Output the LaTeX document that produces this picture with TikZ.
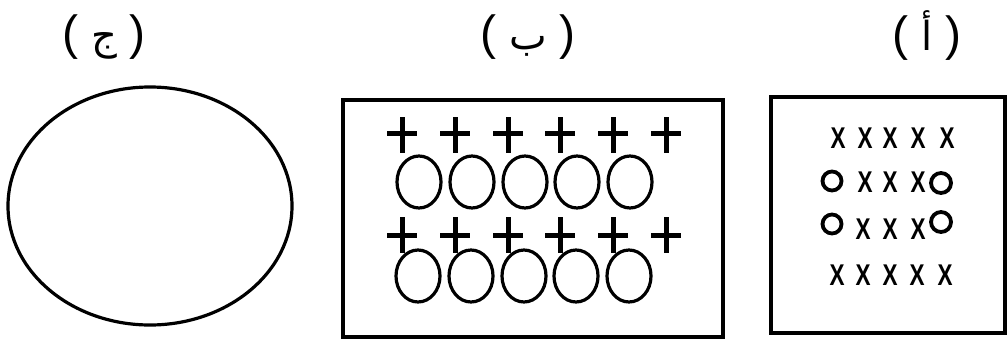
\documentclass[tikz,border=0pt]{standalone}
\usepackage{fontspec}
\newfontfamily\arabicfont[Script=Arabic]{DejaVu Sans}
\newfontfamily\labelfont{Liberation Sans}
\TeXXeTstate=1
\newcommand{\partlabel}[1]{{\labelfont\fontsize{48}{48}\selectfont(}\hspace{13pt}{\arabicfont\fontsize{40}{40}\selectfont\beginR #1\endR}\hspace{13pt}{\labelfont\fontsize{48}{48}\selectfont)}}
\tikzset{
  frame/.style={line width=3.5pt},
  plusline/.style={line width=5pt},
  ionline/.style={line width=3.2pt},
  xsign/.style={inner sep=0pt,xscale=0.75,font=\labelfont\bfseries\fontsize{30}{30}\selectfont},
  ring/.style={circle,draw,line width=3.8pt,minimum size=19pt,inner sep=0pt}
}
\begin{document}
\begin{tikzpicture}[x=1pt,y=-1pt]
    \useasboundingbox (0,0) rectangle (1008,340);

    % Define the rows of the middle box
    \def\plusone{133}   % first row of plus signs
    \def\ionone{182}    % first row of circles
    \def\plustwo{235}   % second row of plus signs
    \def\iontwo{276}    % second row of circles

    % -- Part labels above each drawing --
    \node (labelc) at (104,37) {\partlabel{ج}};
    \node (labelb) at (528,37) {\partlabel{ب}};
    \node (labela) at (927,35) {\partlabel{أ}};

    % -- Left drawing: an empty ellipse --
    \draw[ionline] (150,206) ellipse [x radius=142, y radius=119];

    % -- Middle drawing: box with plus signs and circles --
    \draw[frame] (343,100) rectangle (723,337);
    \foreach \x in {402,455,508,560,613,666}{
      \draw[plusline] (\x-15,\plusone) -- (\x+15,\plusone) (\x,\plusone-16) -- (\x,\plusone+20);
      \draw[plusline] (\x-15,\plustwo) -- (\x+15,\plustwo) (\x,\plustwo-18) -- (\x,\plustwo+18);
    }
    \foreach \x in {419,472,525,577,630}{
      \draw[ionline] (\x,\ionone) ellipse [x radius=22, y radius=26];
      \draw[ionline] (\x-1,\iontwo) ellipse [x radius=22, y radius=26];
    }

    % -- Right drawing: box with crosses and rings --
    \draw[frame] (771,97) rectangle (1005,333);
    \foreach \x [count=\i] in {838,865,890,918,947}
      \node[xsign] (top-\i) at (\x,138) {X};
    \foreach \x [count=\i] in {865,890,918}
      \node[xsign] (mida-\i) at (\x,182) {X};
    \foreach \x [count=\i] in {863,890,918}
      \node[xsign] (midb-\i) at (\x,229) {X};
    \foreach \x [count=\i] in {837,863,890,917,945}
      \node[xsign] (bot-\i) at (\x,275) {X};
    \node[ring] (ringa-l) at (832,181) {};
    \node[ring,minimum size=20pt] (ringa-r) at (941,183) {};
    \node[ring] (ringb-l) at (832,224) {};
    \node[ring,minimum size=20pt] (ringb-r) at (941,222) {};

\end{tikzpicture}
\end{document}
